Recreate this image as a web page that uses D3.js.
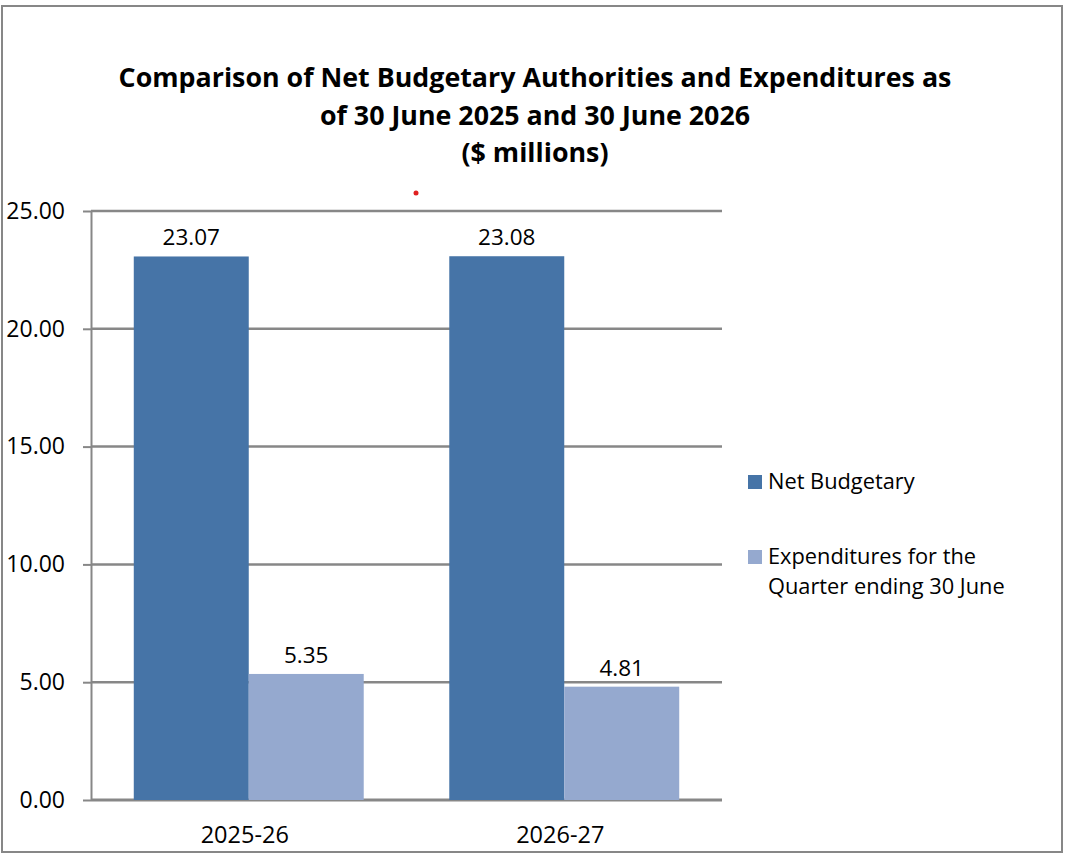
<!DOCTYPE html>
<html>
<head>
<meta charset="utf-8">
<script src="https://cdn.jsdelivr.net/npm/d3@7"></script>
<style>
  body { margin: 0; background: #fff; }
  text { font-family: "Open Sans", Lato, sans-serif; fill: #000; }
</style>
</head>
<body>
<script>
// Chart data
const categories = ["2025-26", "2026-27"];
const seriesNames = ["Net Budgetary", "Expenditures for the Quarter ending 30 June"];
const netBudgetary = [23.07, 23.08];
const expenditures = [5.35, 4.81];
const yTicks = [0, 5, 10, 15, 20, 25];
const titleLines = [
  "Comparison of Net Budgetary Authorities and Expenditures as",
  "of 30 June 2025 and 30 June 2026",
  "($ millions)"
];
const legendLines = [["Net Budgetary"], ["Expenditures for the", "Quarter ending 30 June"]];

const colors = ["#4674a7", "#95a9cf"];
const W = 1068, H = 856;
const plot = { left: 91, right: 722, top: 211, bottom: 800 };
const numSize = 22.5;

const svg = d3.select("body").append("svg")
  .attr("width", W)
  .attr("height", H);

// outer frame
svg.append("rect")
  .attr("x", 2).attr("y", 6)
  .attr("width", 1060).attr("height", 846)
  .attr("fill", "none")
  .attr("stroke", "#878787")
  .attr("stroke-width", 2);

// title
svg.append("text")
  .attr("text-anchor", "middle")
  .attr("font-weight", "bold")
  .attr("font-size", 26.8)
  .selectAll("tspan")
  .data(titleLines)
  .enter()
  .append("tspan")
  .attr("x", 535)
  .attr("y", (d, i) => 87 + i * 37.5)
  .text(d => d);

// scales
const y = d3.scaleLinear().domain([0, 25]).range([plot.bottom, plot.top]);
const x0 = d3.scaleBand().domain(categories).range([plot.left, plot.right]).padding(0);
const x1 = d3.scaleBand().domain(seriesNames).range([0, x0.bandwidth()])
  .paddingInner(0).paddingOuter(0.372);

// ticks and labels
const yAxis = svg.append("g")
  .attr("transform", `translate(${plot.left},0)`)
  .call(d3.axisLeft(y)
    .tickValues(yTicks)
    .tickSize(8)
    .tickSizeOuter(0)
    .tickFormat(d3.format(".2f")));
yAxis.select(".domain").attr("stroke", "#878787").attr("stroke-width", 2);
yAxis.selectAll(".tick line").attr("stroke", "#878787").attr("stroke-width", 2);
yAxis.selectAll(".tick text")
  .attr("x", -26)
  .attr("font-size", 23)
  .attr("font-family", "'Open Sans', Lato, sans-serif")
  .attr("fill", "#000");

// gridlines
svg.append("g")
  .selectAll("line")
  .data(yTicks)
  .enter()
  .append("line")
  .attr("x1", plot.left)
  .attr("x2", plot.right)
  .attr("y1", d => y(d))
  .attr("y2", d => y(d))
  .attr("stroke", "#878787")
  .attr("stroke-width", d => d === 0 ? 3 : 2.5);

// red marker dot seen in the original
svg.append("circle")
  .attr("cx", 416).attr("cy", 193).attr("r", 2.5)
  .attr("fill", "#e02020");

// bars
const rows = categories.map((c, i) => ({
  category: c,
  values: [netBudgetary[i], expenditures[i]]
}));

const groups = svg.append("g")
  .selectAll("g")
  .data(rows)
  .enter()
  .append("g")
  .attr("transform", d => `translate(${x0(d.category)},0)`);

groups.selectAll("rect")
  .data(d => d.values.map((v, j) => ({ name: seriesNames[j], value: v, j })))
  .enter()
  .append("rect")
  .attr("x", d => x1(d.name))
  .attr("y", d => y(d.value))
  .attr("width", x1.bandwidth())
  .attr("height", d => plot.bottom - y(d.value))
  .attr("fill", d => colors[d.j]);

groups.selectAll("text.val")
  .data(d => d.values.map((v, j) => ({ name: seriesNames[j], value: v })))
  .enter()
  .append("text")
  .attr("class", "val")
  .attr("text-anchor", "middle")
  .attr("font-size", numSize)
  .attr("x", d => x1(d.name) + x1.bandwidth() / 2)
  .attr("y", d => y(d.value) - 11)
  .text(d => d3.format(".2f")(d.value));

// x labels
svg.append("g")
  .selectAll("text")
  .data(categories)
  .enter()
  .append("text")
  .attr("text-anchor", "middle")
  .attr("font-size", 23.5)
  .attr("x", d => x0(d) + x0.bandwidth() / 2 - 4)
  .attr("y", 843)
  .text(d => d);

// legend
const legend = svg.append("g")
  .selectAll("g")
  .data(seriesNames)
  .enter()
  .append("g")
  .attr("transform", (d, i) => `translate(748,${475 + i * 75})`);

legend.append("rect")
  .attr("width", 14).attr("height", 14)
  .attr("fill", (d, i) => colors[i]);

legend.append("text")
  .attr("font-size", 21.8)
  .selectAll("tspan")
  .data((d, i) => legendLines[i])
  .enter()
  .append("tspan")
  .attr("x", 20)
  .attr("y", (d, i) => 14 + i * 30)
  .text(d => d);
</script>
</body>
</html>
